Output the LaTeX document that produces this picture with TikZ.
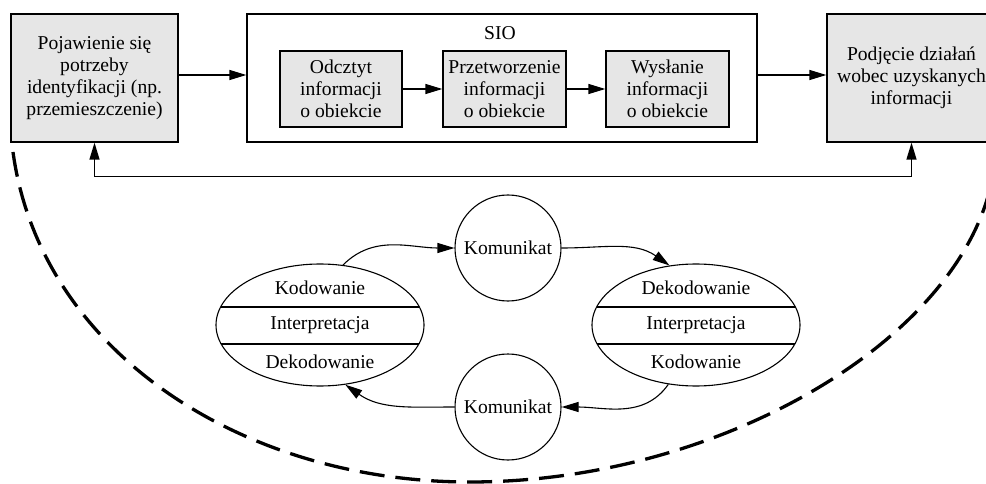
\documentclass[tikz,border=0pt]{standalone}
\usepackage{fontspec}
\setmainfont{Liberation Serif}
\usetikzlibrary{arrows.meta,shapes.geometric,calc}
\definecolor{boxgray}{HTML}{E6E6E6}
\tikzset{
  graybox/.style={draw, fill=boxgray, align=center, inner sep=0pt},
  framebox/.style={draw, inner sep=0pt},
  msgcircle/.style={draw, circle, inner sep=0pt, minimum size=106pt, line width=1.1pt},
  actor/.style={draw, ellipse, inner sep=0pt, minimum width=208pt, minimum height=122pt, line width=1.1pt},
  flow/.style={-{Triangle[length=17pt,width=10pt]}},
  bothflow/.style={{Triangle[length=17pt,width=10pt]}-{Triangle[length=17pt,width=10pt]}},
  scopeline/.style={line width=3.3pt, dash pattern=on 25pt off 11pt}
}
\begin{document}
\begin{tikzpicture}[x=1pt, y=-1pt, line width=1.3pt,
    font=\fontsize{19.6}{22}\selectfont]
\useasboundingbox (0,0) rectangle (986,484);

% top row: process boxes
\node[graybox, minimum width=167pt, minimum height=128pt] (need) at (94.5,78)
  {Pojawienie się\\potrzeby\\identyfikacji (np.\\przemieszczenie)};
\node[framebox, minimum width=510pt, minimum height=128pt] (sio) at (502,78) {};
\node (siolabel) at (500,33) {SIO};
\node[graybox, minimum width=122pt, minimum height=76pt] (read) at (341,89)
  {Odcztyt\\informacji\\o obiekcie};
\node[graybox, minimum width=123pt, minimum height=76pt] (proc) at (504.5,89)
  {Przetworzenie\\informacji\\o obiekcie};
\node[graybox, minimum width=123pt, minimum height=76pt] (send) at (667.5,89)
  {Wysłanie\\informacji\\o obiekcie};
\node[graybox, minimum width=169pt, minimum height=128pt] (act) at (911.5,78)
  {Podjęcie działań\\wobec uzyskanych\\informacji};

\draw[flow] (need.east |- 0,75) -- (sio.west |- 0,75);
\draw[flow] (sio.east |- 0,75) -- (act.west |- 0,75);
\draw[flow] (read) -- (proc);
\draw[flow] (proc) -- (send);
\draw[bothflow] (need.south) -- ++(0,34) -| (act.south);

% communication loop
\node[actor] (sender) at (320,325) {};
\node[actor] (receiver) at (696,325) {};
\node[msgcircle] (msgtop) at (508,248) {Komunikat};
\node[msgcircle] (msgbot) at (508,407) {Komunikat};

\foreach \e/\a/\b in {sender/Kodowanie/Dekodowanie, receiver/Dekodowanie/Kodowanie}{
  \draw ($(\e.center)+(-99.4,-18)$) -- ($(\e.center)+(99.4,-18)$);
  \draw ($(\e.center)+(-99.2,19)$) -- ($(\e.center)+(99.2,19)$);
  \node (\e-top) at ($(\e.center)+(0,-37)$) {\a};
  \node (\e-mid) at ($(\e.center)+(0,0)$) {Interpretacja};
  \node (\e-bot) at ($(\e.center)+(0,37)$) {\b};
}

\draw[flow, line width=1.1pt] (sender.69) to[out=45, in=180] (msgtop.west);
\draw[flow, line width=1.1pt] (msgtop.east) to[out=0, in=145] (receiver.114);
\draw[flow, line width=1.1pt] (receiver.245) to[out=-125, in=0] (msgbot.east);
\draw[flow, line width=1.1pt] (msgbot.west) to[out=180, in=-35] (sender.-67);

% dashed boundary
\draw[scopeline] (13,152) .. controls (40,350) and (240,482) .. (470,482)
  .. controls (720,482) and (960,340) .. (992,180);
\end{tikzpicture}
\end{document}
